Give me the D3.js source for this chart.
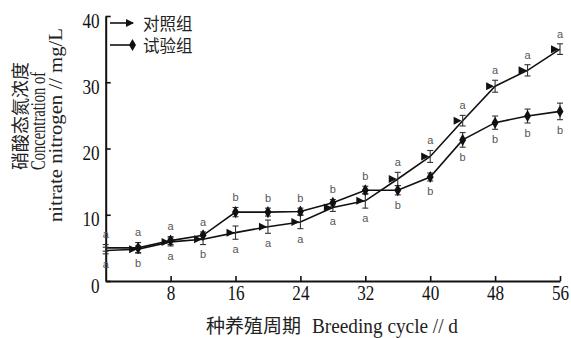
<!DOCTYPE html>
<html>
<head>
<meta charset="utf-8">
<script src="https://cdn.jsdelivr.net/npm/d3@7"></script>
<style>
  html, body { margin: 0; padding: 0; background: #fff; }
  svg { display: block; }
</style>
</head>
<body>
<svg id="chart" width="571" height="338"></svg>
<script>
// ---- data ----
const days = [0, 4, 8, 12, 16, 20, 24, 28, 32, 36, 40, 44, 48, 52, 56];
const controlMean = [4.6, 4.8, 5.9, 6.3, 7.3, 8.2, 8.9, 11.1, 12.1, 15.4, 18.8, 24.2, 29.4, 31.8, 35.0];
const controlErr  = [0.5, 0.5, 0.6, 0.8, 1.0, 1.0, 1.0, 0.6, 1.1, 1.0, 0.9, 0.8, 0.9, 0.85, 0.8];
const trialMean   = [5.0, 5.0, 6.1, 6.9, 10.4, 10.4, 10.5, 11.8, 13.7, 13.7, 15.7, 21.3, 23.9, 24.9, 25.6];
const trialErr    = [0.5, 0.8, 0.6, 0.5, 0.7, 0.6, 0.5, 0.5, 0.6, 0.7, 0.6, 1.1, 1.0, 1.05, 1.25];
const topLetters    = ['a','a','a','a','b','b','b','b','b','a','a','a','a','a','a'];
const bottomLetters = ['a','b','a','b','a','a','a','a','a','b','b','b','b','b','b'];
const xTicks = [8, 16, 24, 32, 40, 48, 56];
const yTicks = [0, 10, 20, 30, 40];
const seriesNames = ['对照组', '试验组'];

// ---- layout ----
const svg = d3.select('#chart');
const x = d3.scaleLinear().domain([0, 56]).range([105.7, 560]);
const y = d3.scaleLinear().domain([0, 40]).range([281, 16]);
const numFont = 'Liberation Serif, Times New Roman, serif';
const cjkFont = 'Noto Sans CJK SC, sans-serif';

svg.append('rect').attr('width', 571).attr('height', 338).attr('fill', '#fff');

// axes
const xAxis = svg.append('g').attr('transform', `translate(0,${y(0)})`)
  .call(d3.axisBottom(x).tickValues(xTicks).tickSizeInner(-5).tickSizeOuter(0).tickFormat(d3.format('d')));
const yAxis = svg.append('g').attr('transform', `translate(${x(0)},0)`)
  .call(d3.axisLeft(y).tickValues(yTicks).tickSizeInner(-5).tickSizeOuter(0).tickFormat(d3.format('d')));

[xAxis, yAxis].forEach(g => {
  g.select('.domain').attr('stroke', '#111').attr('stroke-width', 2);
  g.selectAll('.tick line').attr('stroke', '#111').attr('stroke-width', 1.6);
  g.selectAll('.tick text').attr('fill', '#111').attr('font-family', numFont).attr('font-size', 22);
});
xAxis.selectAll('.tick text').attr('y', null).attr('dy', null)
  .attr('transform', 'translate(0,19) scale(0.78,1)');
yAxis.selectAll('.tick text').attr('x', null).attr('dy', null)
  .attr('transform', 'translate(-6,11) scale(0.78,1)');

// lines
const line = d3.line().x((d, i) => x(days[i])).y(d => y(d));
svg.append('path').datum(controlMean).attr('d', line)
  .attr('fill', 'none').attr('stroke', '#111').attr('stroke-width', 1.6);
svg.append('path').datum(trialMean).attr('d', line)
  .attr('fill', 'none').attr('stroke', '#111').attr('stroke-width', 1.6);

// error bars
function errorBars(means, errs) {
  const g = svg.append('g').attr('stroke', '#333').attr('stroke-width', 1.1).attr('fill', 'none');
  means.forEach((m, i) => {
    const cx = x(days[i]), y1 = y(m + errs[i]), y2 = y(m - errs[i]);
    g.append('line').attr('x1', cx).attr('x2', cx).attr('y1', y1).attr('y2', y2);
    g.append('line').attr('x1', cx - 3).attr('x2', cx + 3).attr('y1', y1).attr('y2', y1);
    g.append('line').attr('x1', cx - 3).attr('x2', cx + 3).attr('y1', y2).attr('y2', y2);
  });
}
errorBars(controlMean, controlErr);
errorBars(trialMean, trialErr);

// markers
function triPath(tx, ty) {
  return `M${tx},${ty} L${tx - 8},${ty - 4} L${tx - 8},${ty + 4} Z`;
}
const diamond = d3.symbol().type(d3.symbolDiamond).size(42);
controlMean.forEach((m, i) => {
  if (i === 0) return;
  svg.append('path').attr('d', triPath(x(days[i]) - 1, y(m))).attr('fill', '#111');
});
trialMean.forEach((m, i) => {
  if (i === 0) return;
  svg.append('path').attr('d', diamond).attr('transform', `translate(${x(days[i])},${y(m)})`).attr('fill', '#111');
});

// significance letters
const letters = svg.append('g').attr('font-family', 'Liberation Sans, Arial, sans-serif')
  .attr('font-size', 11).attr('fill', '#555').attr('text-anchor', 'middle');
days.forEach((d, i) => {
  const top = Math.max(controlMean[i] + controlErr[i], trialMean[i] + trialErr[i]);
  const bot = Math.min(controlMean[i] - controlErr[i], trialMean[i] - trialErr[i]);
  letters.append('text').attr('x', x(d)).attr('y', y(top) - 10).attr('dy', '0.35em').text(topLetters[i]);
  letters.append('text').attr('x', x(d)).attr('y', y(bot) + 10).attr('dy', '0.35em').text(bottomLetters[i]);
});

// legend
const lg = svg.append('g');
lg.append('line').attr('x1', 110).attr('x2', 133).attr('y1', 23).attr('y2', 23).attr('stroke', '#111').attr('stroke-width', 1.6);
lg.append('path').attr('d', triPath(134, 23)).attr('fill', '#111');
lg.append('line').attr('x1', 110).attr('x2', 133).attr('y1', 45).attr('y2', 45).attr('stroke', '#111').attr('stroke-width', 1.6);
lg.append('path').attr('d', diamond).attr('transform', 'translate(132.5,45)').attr('fill', '#111');
lg.selectAll('text.lg').data(seriesNames).join('text')
  .attr('x', 143).attr('y', (d, i) => i === 0 ? 24 : 46).attr('dy', '0.35em')
  .attr('font-family', cjkFont).attr('font-size', 16.5).attr('fill', '#222').text(d => d);

// x-axis title
svg.append('text').attr('x', 206).attr('y', 333).attr('font-family', cjkFont)
  .attr('font-size', 19).attr('fill', '#222').text('种养殖周期');
svg.append('text').attr('x', 312).attr('y', 333).attr('font-family', numFont)
  .attr('font-size', 21).attr('fill', '#222')
  .attr('textLength', 146).attr('lengthAdjust', 'spacingAndGlyphs').text('Breeding cycle // d');

// y-axis title (rotated)
svg.append('text').attr('transform', 'translate(27,116) rotate(-90)').attr('text-anchor', 'middle')
  .attr('font-family', cjkFont).attr('font-size', 18).attr('fill', '#222').text('硝酸态氮浓度');
svg.append('text').attr('transform', 'translate(45,121) rotate(-90)').attr('text-anchor', 'middle')
  .attr('font-family', numFont).attr('font-size', 21).attr('fill', '#222')
  .attr('textLength', 98).attr('lengthAdjust', 'spacingAndGlyphs').text('Concentration of');
svg.append('text').attr('transform', 'translate(62,125) rotate(-90)').attr('text-anchor', 'middle')
  .attr('font-family', numFont).attr('font-size', 18).attr('fill', '#222')
  .attr('textLength', 194).attr('lengthAdjust', 'spacingAndGlyphs').text('nitrate nitrogen // mg/L');
</script>
</body>
</html>
